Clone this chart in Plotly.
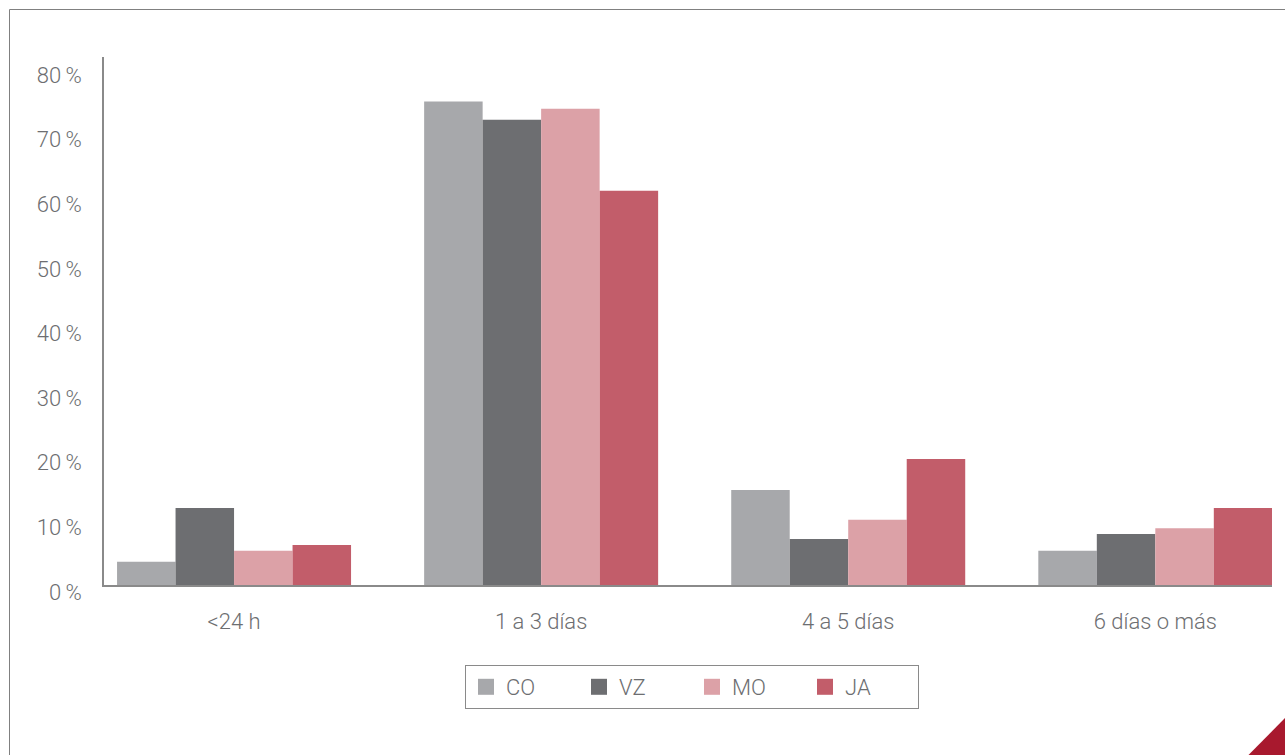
import plotly.graph_objects as go

categories = ["<24 h", "1 a 3 días", "4 a 5 días", "6 días o más"]
series_names = ["CO", "VZ", "MO", "JA"]
co = [3.6, 74.8, 14.7, 5.3]
vz = [11.9, 72.0, 7.1, 7.9]
mo = [5.3, 73.7, 10.1, 8.8]
ja = [6.2, 61.0, 19.5, 11.9]
colors = ["#a7a8ab", "#6d6e71", "#dca1a7", "#c25d6a"]
y_ticks = [0, 10, 20, 30, 40, 50, 60, 70, 80]
y_tick_text = [f"{v}\u2009%" for v in y_ticks]

FONT = "Roboto"
TXT = "#6d6e71"

fig = go.Figure()
for name, vals, col in zip(series_names, [co, vz, mo, ja], colors):
    fig.add_trace(go.Bar(x=categories, y=vals, name=name, marker=dict(color=col, line=dict(width=0)),
                         showlegend=False))
    # legend proxy with larger square symbol
    fig.add_trace(go.Scatter(x=[None], y=[None], mode="markers", name=name,
                             marker=dict(symbol="square", size=16, color=col)))

# plot area geometry (px)
L, R, T, B = 104, 1272, 57, 585
W, H = R - L, B - T

def px_x(p):
    return (p - L) / W

def px_y(p):
    return (B - p) / H

fig.update_layout(
    width=1285, height=755,
    margin=dict(l=L, r=1285 - R, t=T, b=755 - B),
    paper_bgcolor="white", plot_bgcolor="white",
    barmode="group", bargap=0.238, bargroupgap=0,
    font=dict(family=FONT, size=22, color=TXT, weight=300),
    legend=dict(orientation="h", x=px_x(465), y=px_y(665), xanchor="left", yanchor="top",
                bordercolor="#8a8a8a", borderwidth=1, entrywidth=68, itemsizing="trace",
                valign="middle", tracegroupgap=0,
                font=dict(family=FONT, size=22, color=TXT, weight=300)),
    xaxis=dict(range=[-0.4235, 3.38], showline=True, linecolor="#8a8a8a", linewidth=1.5,
               showgrid=False, ticks="", ticklabelstandoff=16, fixedrange=True),
    yaxis=dict(range=[0, 81.7], tickvals=y_ticks, ticktext=y_tick_text, showline=True,
               linecolor="#8a8a8a", linewidth=1.5, showgrid=False, zeroline=False, ticks="",
               ticklabelstandoff=16, ticklabelshift=7, fixedrange=True),
    shapes=[
        dict(type="rect", xref="paper", yref="paper", x0=px_x(9.5), x1=px_x(1300),
             y0=px_y(770), y1=px_y(9.5), line=dict(color="#808080", width=1), layer="below"),
        dict(type="path", xref="paper", yref="paper",
             path=f"M {px_x(1248)},{px_y(755.5)} L {px_x(1286)},{px_y(755.5)} L {px_x(1286)},{px_y(717)} Z",
             fillcolor="#a8192e", line=dict(width=0)),
    ],
)

fig.write_html("out.html")
